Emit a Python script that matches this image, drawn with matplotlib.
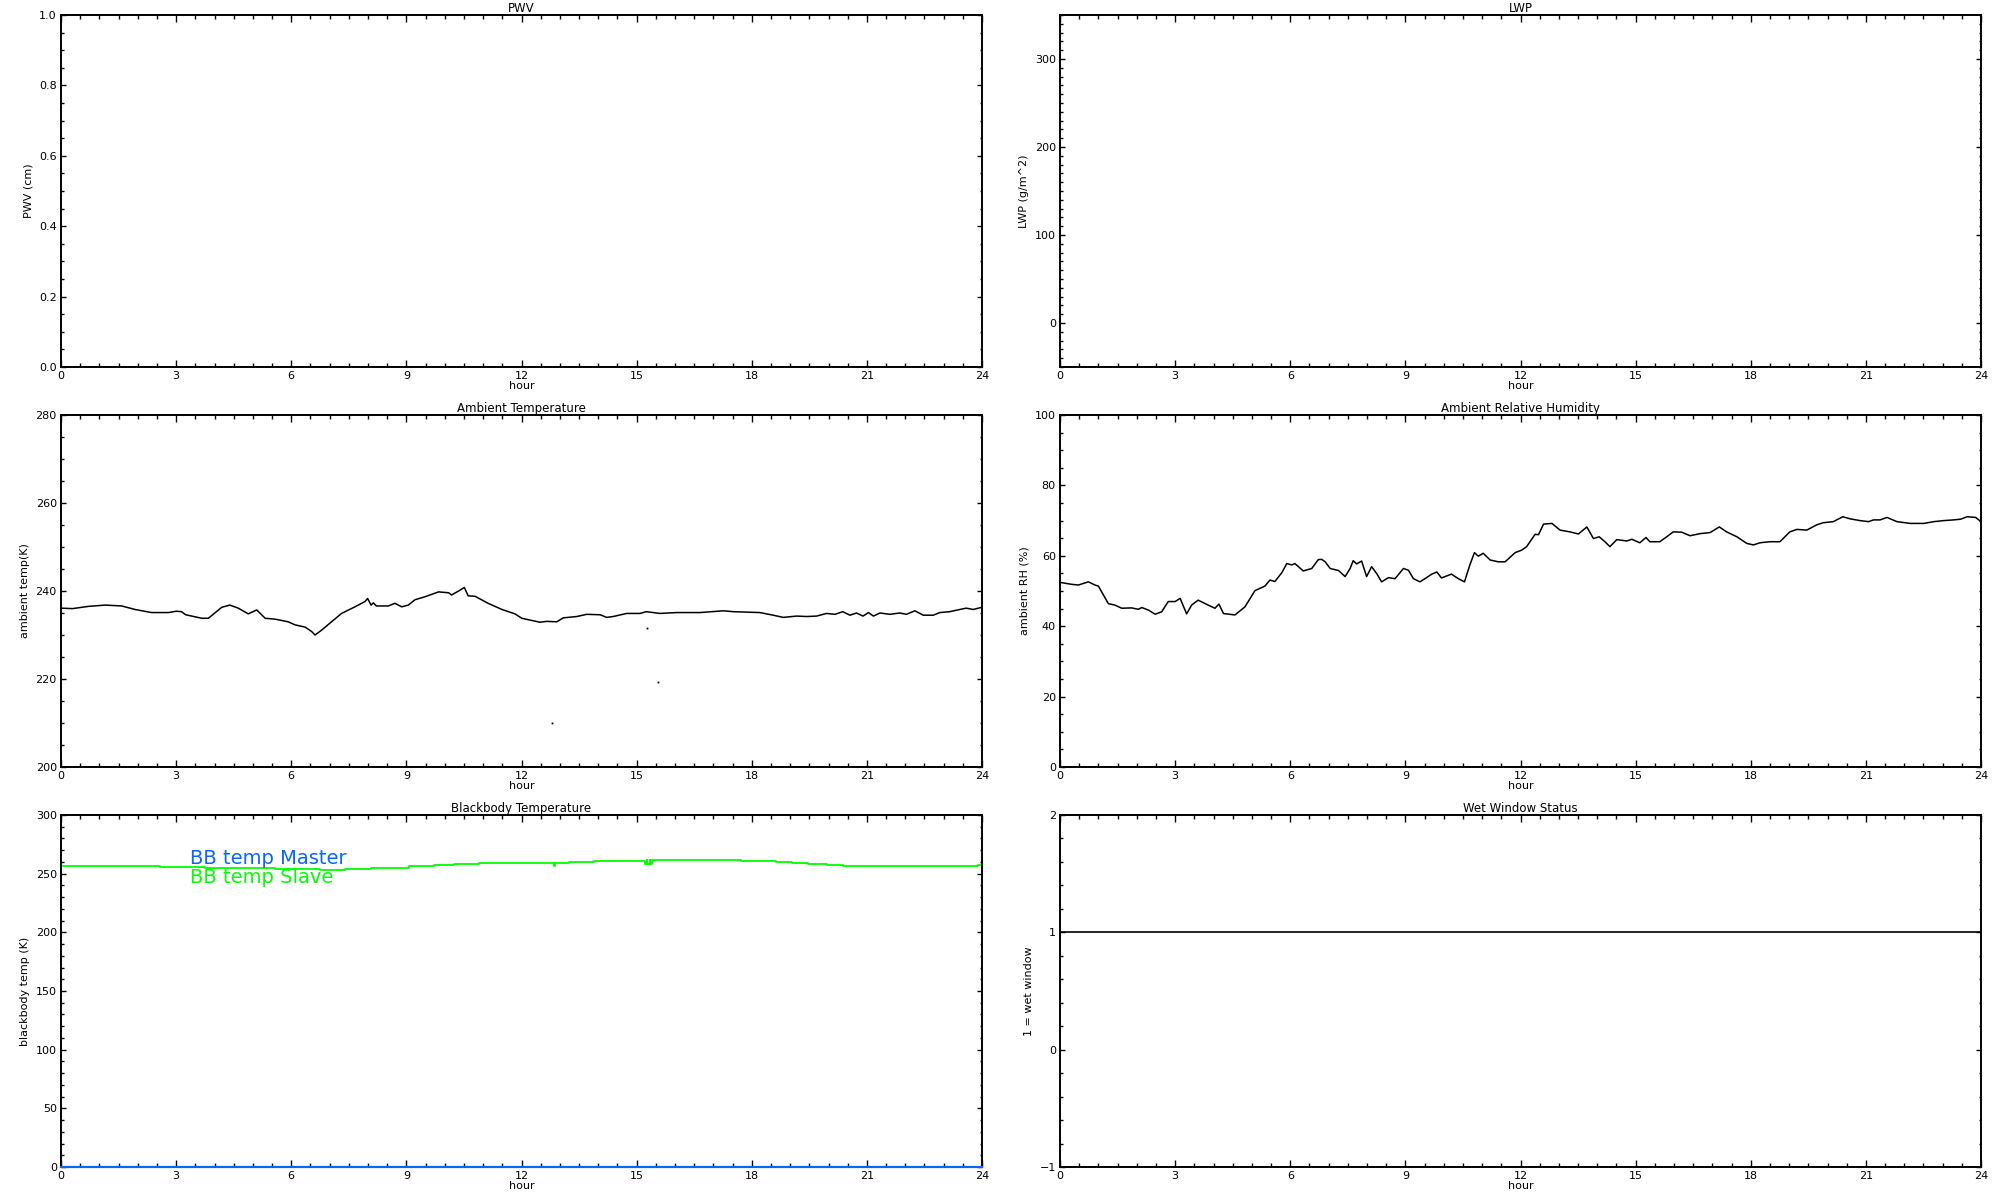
import matplotlib
matplotlib.use("Agg")
import matplotlib.pyplot as plt
from matplotlib.ticker import MultipleLocator, FormatStrFormatter

# ---------------- data ----------------
temp_hours = [0.0, 0.3, 0.71, 1.15, 1.58, 1.93, 2.36, 2.80, 3.0, 3.14, 3.25, 3.67, 3.84,
              4.19, 4.40, 4.62, 4.88, 5.10, 5.32, 5.58, 5.92, 6.10, 6.36, 6.53, 6.62,
              6.79, 7.05, 7.31, 7.66, 7.92, 7.99, 8.08, 8.14, 8.22, 8.53, 8.70, 8.88,
              9.05, 9.22, 9.49, 9.84, 10.10, 10.18, 10.36, 10.51, 10.61, 10.79, 11.13,
              11.49, 11.83, 12.01, 12.48, 12.66, 12.92, 13.09, 13.44, 13.70, 14.05,
              14.22, 14.39, 14.74, 15.09, 15.25, 15.61, 16.04, 16.65, 17.26, 17.52,
              18.21, 18.56, 18.82, 19.17, 19.43, 19.69, 19.95, 20.17, 20.37, 20.56,
              20.73, 20.90, 21.04, 21.17, 21.34, 21.60, 21.86, 22.03, 22.25, 22.47,
              22.73, 22.90, 23.16, 23.42, 23.59, 23.77, 24.0]
temp_values = [236.1, 236.0, 236.5, 236.8, 236.6, 235.8, 235.1, 235.1, 235.4, 235.3, 234.6,
               233.8, 233.8, 236.3, 236.8, 236.1, 234.8, 235.7, 233.8, 233.6, 233.0,
               232.3, 231.8, 230.8, 230.0, 231.1, 233.0, 234.9, 236.4, 237.6, 238.3,
               236.8, 237.3, 236.6, 236.6, 237.2, 236.4, 236.8, 238.0, 238.7, 239.8,
               239.6, 239.1, 240.0, 240.8, 238.9, 238.8, 237.2, 235.8, 234.8, 233.8,
               232.9, 233.1, 233.0, 233.9, 234.2, 234.7, 234.6, 234.0, 234.2, 234.9,
               234.9, 235.3, 234.9, 235.1, 235.1, 235.5, 235.3, 235.1, 234.5, 234.0,
               234.3, 234.2, 234.3, 234.9, 234.7, 235.3, 234.5, 235.0, 234.3, 235.1,
               234.3, 235.0, 234.7, 235.0, 234.7, 235.5, 234.5, 234.5, 235.1, 235.3,
               235.8, 236.1, 235.8, 236.3]
temp_outlier_hours = [12.79, 15.28, 15.56]
temp_outlier_values = [210.0, 231.5, 219.3]

rh_hours = [0.03, 0.30, 0.48, 0.74, 0.91, 1.00, 1.13, 1.26, 1.43, 1.61, 1.87, 2.04, 2.13,
            2.30, 2.48, 2.65, 2.82, 3.00, 3.13, 3.30, 3.43, 3.60, 3.86, 4.04, 4.14, 4.26,
            4.56, 4.82, 5.08, 5.34, 5.47, 5.60, 5.78, 5.91, 6.04, 6.12, 6.34, 6.56, 6.73,
            6.82, 6.91, 7.04, 7.26, 7.43, 7.56, 7.64, 7.73, 7.86, 7.99, 8.12, 8.25, 8.38,
            8.56, 8.73, 8.95, 9.08, 9.21, 9.38, 9.51, 9.69, 9.82, 9.94, 10.20, 10.38,
            10.54, 10.68, 10.80, 10.90, 11.03, 11.21, 11.42, 11.60, 11.86, 12.03, 12.16,
            12.38, 12.47, 12.60, 12.82, 13.03, 13.29, 13.51, 13.73, 13.90, 14.05, 14.20,
            14.33, 14.51, 14.77, 14.90, 15.11, 15.27, 15.37, 15.63, 15.81, 15.98, 16.20,
            16.42, 16.68, 16.94, 17.18, 17.37, 17.64, 17.90, 18.07, 18.24, 18.50, 18.76,
            19.02, 19.20, 19.46, 19.72, 19.89, 20.15, 20.40, 20.59, 20.85, 21.07, 21.20,
            21.37, 21.55, 21.81, 22.16, 22.51, 22.77, 23.03, 23.29, 23.47, 23.64, 23.86,
            24.0]
rh_values = [52.4, 51.9, 51.7, 52.6, 51.7, 51.4, 48.9, 46.4, 46.0, 45.1, 45.2, 44.8, 45.3,
             44.6, 43.4, 44.1, 47.0, 47.0, 47.9, 43.5, 46.0, 47.4, 46.0, 45.1, 46.3, 43.6,
             43.2, 45.5, 50.1, 51.4, 53.1, 52.7, 55.2, 57.8, 57.4, 57.8, 55.7, 56.4, 58.9,
             59.0, 58.3, 56.4, 55.8, 54.1, 56.4, 58.6, 57.7, 58.5, 54.1, 56.9, 55.0, 52.6,
             53.8, 53.5, 56.4, 55.9, 53.5, 52.6, 53.5, 54.8, 55.4, 53.7, 54.8, 53.5, 52.6,
             57.4, 60.9, 59.9, 60.7, 58.8, 58.3, 58.3, 60.9, 61.6, 62.6, 66.1, 66.0, 69.0,
             69.2, 67.3, 66.8, 66.2, 68.2, 64.9, 65.4, 64.0, 62.6, 64.6, 64.2, 64.7, 63.7,
             65.2, 64.0, 64.0, 65.4, 66.8, 66.7, 65.7, 66.3, 66.6, 68.2, 66.8, 65.4, 63.5,
             63.1, 63.7, 64.0, 64.0, 66.8, 67.5, 67.3, 68.8, 69.4, 69.7, 71.1, 70.5, 70.0,
             69.7, 70.2, 70.2, 70.9, 69.7, 69.2, 69.2, 69.7, 70.0, 70.2, 70.4, 71.1, 70.9,
             69.7]

bb_slave_hours = [0.0, 2.58, 3.74, 5.57, 6.74, 7.40, 8.07, 9.07, 9.73, 10.23, 10.90,
                  12.84, 12.87, 13.23, 13.89, 15.22, 15.26, 15.28, 15.34, 15.36, 15.41,
                  15.43, 17.72, 18.64, 19.05, 19.47, 19.97, 20.38, 23.9, 24.0]
bb_slave_values = [256.4, 255.5, 254.6, 253.8, 252.9, 253.8, 255.2, 256.3, 257.1, 258.0,
                   258.9, 256.5, 258.9, 259.7, 260.6, 258.0, 261.4, 258.0, 261.4, 258.5,
                   261.4, 261.4, 260.6, 259.7, 258.9, 258.0, 257.1, 256.3, 257.1, 257.1]
bb_master_hours = [0.0, 24.0]
bb_master_values = [0.0, 0.0]

wet_hours = [0.0, 24.0]
wet_values = [1.0, 1.0]

hour_ticks = [0, 3, 6, 9, 12, 15, 18, 21, 24]

# ---------------- figure ----------------
plt.rcParams['font.family'] = ['DejaVu Sans']
fig = plt.figure(figsize=(20, 12), dpi=100)

W, H = 2000.0, 1200.0
col_left = [61, 1060]
ax_w = 921
row_top = [15, 415, 815]
ax_h = 352

def make_ax(r, c):
    l = col_left[c] / W
    b = 1 - (row_top[r] + ax_h) / H
    return fig.add_axes([l, b, ax_w / W, ax_h / H])

def style(ax, title, ylabel, ylim, ymaj, ymin, fmt=None):
    ax.set_xlim(0, 24)
    ax.set_ylim(*ylim)
    ax.set_xticks(hour_ticks)
    ax.xaxis.set_minor_locator(MultipleLocator(0.5))
    ax.yaxis.set_major_locator(MultipleLocator(ymaj))
    ax.yaxis.set_minor_locator(MultipleLocator(ymin))
    if fmt:
        ax.yaxis.set_major_formatter(FormatStrFormatter(fmt))
    ax.tick_params(axis='both', which='both', direction='in', top=True, right=True,
                   labelsize=8, colors='black', width=1.0)
    ax.tick_params(axis='x', which='major', length=5.2, pad=3)
    ax.tick_params(axis='x', which='minor', length=2.8)
    ax.tick_params(axis='y', which='major', length=3.4, pad=3)
    ax.tick_params(axis='y', which='minor', length=1.8)
    for s in ax.spines.values():
        s.set_linewidth(1.4)
    ax.set_title(title, fontsize=8.5, pad=2)
    ax.set_xlabel('hour', fontsize=8, labelpad=0)
    ax.set_ylabel(ylabel, fontsize=8, labelpad=4)

# PWV
ax = make_ax(0, 0)
style(ax, 'PWV', 'PWV (cm)', (0, 1), 0.2, 0.05, '%.1f')

# LWP
ax = make_ax(0, 1)
style(ax, 'LWP', 'LWP (g/m^2)', (-50, 350), 100, 10)

# Ambient temperature
ax = make_ax(1, 0)
style(ax, 'Ambient Temperature', 'ambient temp(K)', (200, 280), 20, 5)
ax.plot(temp_hours, temp_values, color='black', lw=1.1)
ax.plot(temp_outlier_hours, temp_outlier_values, 's', color='black', ms=1.3, mew=0)

# Ambient RH
ax = make_ax(1, 1)
style(ax, 'Ambient Relative Humidity', 'ambient RH (%)', (0, 100), 20, 5)
ax.plot(rh_hours, rh_values, color='black', lw=1.1)

# Blackbody
ax = make_ax(2, 0)
style(ax, 'Blackbody Temperature', 'blackbody temp (K)', (0, 300), 50, 10)
ax.plot(bb_slave_hours, bb_slave_values, color='#00ff00', lw=1.3, drawstyle='steps-post')
ax.plot(bb_master_hours, bb_master_values, color='#0a64ff', lw=1.6, clip_on=False, zorder=5)
ax.text(3.36, 258.2, 'BB temp Master', color='#0a64ff', fontsize=14, va='baseline')
ax.text(3.36, 242.3, 'BB temp Slave', color='#00ff00', fontsize=14, va='baseline')

# Wet window
ax = make_ax(2, 1)
style(ax, 'Wet Window Status', '1 = wet window', (-1, 2), 1, 0.2)
ax.plot(wet_hours, wet_values, color='black', lw=1.2)

fig.savefig('out.png', dpi=100, facecolor='white')
